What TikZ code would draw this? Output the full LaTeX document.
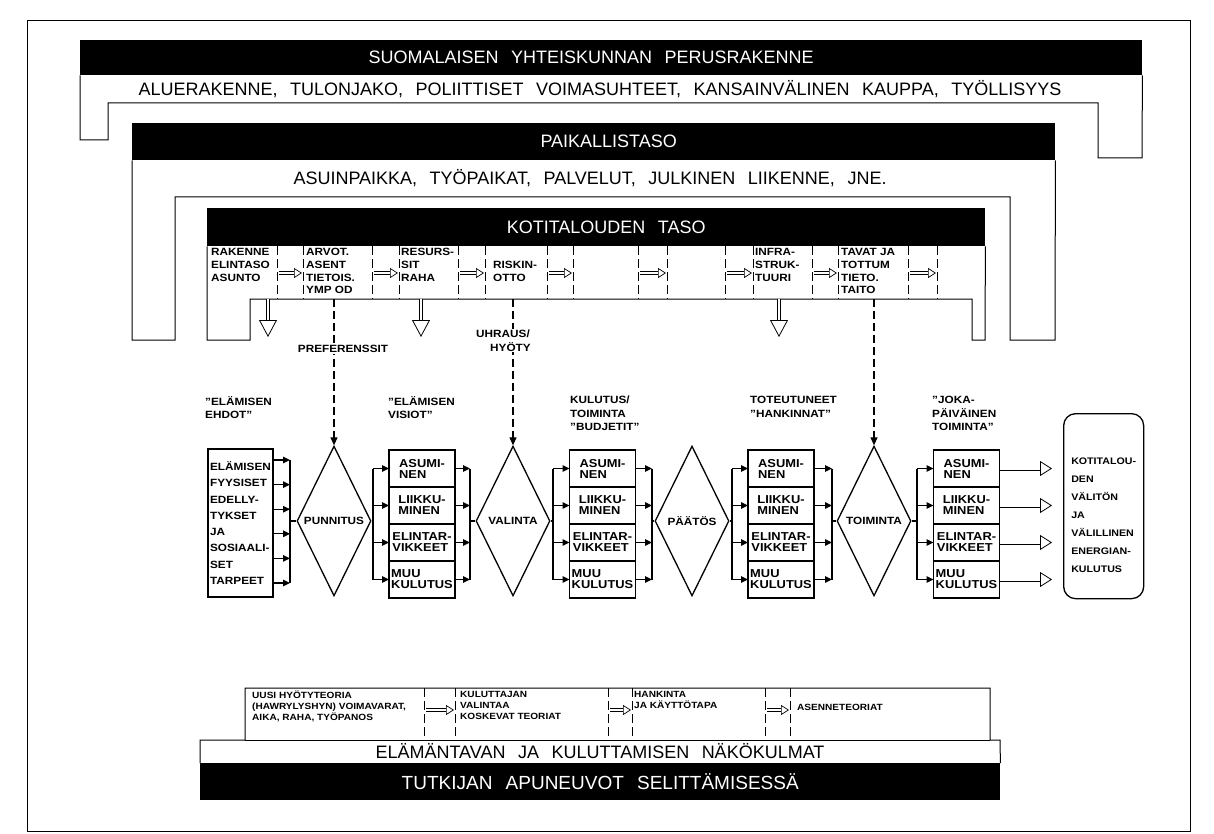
\documentclass[tikz,border=0pt]{standalone}
\usepackage{fontspec}
\setmainfont{Liberation Sans}[WordSpace=2.5]
\newfontfamily\lblfont{Liberation Sans}[FakeStretch=1.12]
\usetikzlibrary{positioning,arrows.meta,shapes.geometric}

\begin{document}
\begin{tikzpicture}[x=1pt,y=-1pt,
    band/.style={fill=black,text=white,inner sep=0pt,anchor=north west,font=\fontsize{18}{20}\selectfont},
    desc/.style={inner sep=0pt,font=\fontsize{18}{20}\selectfont},
    lbl/.style={inner sep=0pt,align=left,font=\lblfont\bfseries\fontsize{10.5}{13.5}\selectfont},
    cell/.style={lbl,anchor=north west,font=\lblfont\bfseries\fontsize{10.5}{12.8}\selectfont},
    tool/.style={lbl,anchor=north west,font=\lblfont\bfseries\fontsize{9}{11}\selectfont},
    colbox/.style={draw,line width=1.3pt,lbl,outer sep=0pt,minimum width=66pt,minimum height=37pt,font=\lblfont\bfseries\fontsize{11.5}{11}\selectfont},
    dia/.style={draw,diamond,aspect=0.5,line width=1.3pt,minimum width=74pt,minimum height=150pt,lbl},
    rim/.style={line width=1pt},
    bus/.style={line width=1.3pt},
    feed/.style={line width=1.3pt,-{Triangle[length=7pt,width=6.5pt]}},
    hint/.style={line width=1.2pt,dash pattern=on 8pt off 4pt,-{Triangle[length=8pt,width=7pt]}},
    cellsep/.style={line width=0.9pt,dash pattern=on 9pt off 4pt},
    dbl/.style={double,double distance=2.4pt,line width=0.8pt,-{Triangle[open,length=12pt,width=15pt]}},
    dbig/.style={double,double distance=2.4pt,line width=0.8pt,-{Triangle[open,length=17pt,width=18pt]}},
    sdbl/.style={double,double distance=1.8pt,line width=0.7pt,-{Triangle[open,length=8pt,width=10pt]}}]
\useasboundingbox (0,0) rectangle (1214,834);
\draw[line width=0.8pt] (27,20) rectangle (1190,831);

% yhteiskunnan taso
\node[band,minimum width=1062pt,minimum height=35pt] (yht) at (80,40) {\hspace*{-40pt}SUOMALAISEN YHTEISKUNNAN PERUSRAKENNE};
\node[desc] (yhtd) at (600,89) {ALUERAKENNE, TULONJAKO, POLIITTISET VOIMASUHTEET, KANSAINVÄLINEN KAUPPA, TYÖLLISYYS};
\draw[rim] (yht.south west) -- (80,140) -- (108,140) -- (108,103) -- (1098,103) -- (1098,158) -- (1142,158) -- (yht.south east);

% paikallistaso
\node[band,minimum width=923pt,minimum height=37pt] (paik) at (132,123) {\hspace*{30pt}PAIKALLISTASO};
\node[desc] (paikd) at (590,178) {ASUINPAIKKA, TYÖPAIKAT, PALVELUT, JULKINEN LIIKENNE, JNE.};
\draw[rim] (paik.south west) -- (132,340) -- (175,340) -- (175,197) -- (1010,197) -- (1010,340) -- (1055,340) -- (paik.south east);

% kotitalouden taso
\node[band,minimum width=778pt,minimum height=38pt] (koti) at (207,208) {\hspace*{20pt}KOTITALOUDEN TASO};
\draw[rim] (koti.south west) -- (207,340) -- (250,340) -- (250,299) -- (972,299) -- (972,340) -- (985,340) -- (koti.south east);
\node[cell] (rak) at (211,248) {RAKENNE\\ELINTASO\\ASUNTO};
\node[cell] (arv) at (306,248) {ARVOT.\\ASENT\\TIETOIS.\\YMP OD};
\node[cell] (res) at (401,248) {RESURS-\\SIT\\RAHA};
\node[cell] (ris) at (493,261) {RISKIN-\\OTTO};
\node[cell] (inf) at (755,248) {INFRA-\\STRUK-\\TUURI};
\node[cell] (tav) at (841,248) {TAVAT JA\\TOTTUM\\TIETO.\\TAITO};
\foreach \x in {277,303,372,399,458,485,547,573,638,667,725,753,812,838,908,937}
  \draw[cellsep] (\x,246) -- (\x,299);
\foreach \a/\b in {277/303,372/399,458/485,547/573,638/667,725/753,812/838,908/937}
  \draw[sdbl] (\a+2,273) -- (\b-1,273);

% vaikutukset alas
\coordinate (h1) at (268,299);
\coordinate (h2) at (421,299);
\coordinate (h3) at (779,299);
\foreach \h in {h1,h2,h3} \draw[dbig] (\h) -- ++(0,38);

% paaketju
\node[lbl,anchor=north west] (ehdotl) at (205,396) {”ELÄMISEN\\EHDOT”};
\node[lbl,anchor=north west] (visiol) at (388,396) {”ELÄMISEN\\VISIOT”};
\node[lbl,anchor=north west] (budjl) at (570,396) {KULUTUS/\\TOIMINTA\\”BUDJETIT”};
\node[lbl,anchor=north west] (hankl) at (750,396) {TOTEUTUNEET\\”HANKINNAT”};
\node[lbl,anchor=north west] (jokal) at (932,396) {”JOKA-\\PÄIVÄINEN\\TOIMINTA”};

\node[colbox,anchor=north west,minimum width=65pt,minimum height=148pt,font=\lblfont\bfseries\fontsize{10.5}{16.3}\selectfont] (ehdot) at (208,449)
  {ELÄMISEN\\FYYSISET\\EDELLY-\\TYKSET\\JA\\SOSIAALI-\\SET\\TARPEET};

\node[dia] (punnitus) at (334,521) {PUNNITUS};
\node[dia] (valinta) at (513,521) {VALINTA};
\node[dia] (paatos) at (692,521) {PÄÄTÖS};
\node[dia] (toiminta) at (874,521) {TOIMINTA};

\foreach \c/\x in {1/422,2/602.5,3/781,4/966.5} {
  \node[colbox] (a\c) at (\x,468.5) {ASUMI-\\NEN};
  \node[colbox,below=0pt of a\c] (b\c) {LIIKKU-\\MINEN};
  \node[colbox,below=0pt of b\c] (c\c) {ELINTAR-\\VIKKEET};
  \node[colbox,below=0pt of c\c] (d\c) {MUU\\KULUTUS};
}

\node[draw,line width=1.3pt,rounded corners=12pt,anchor=north west,lbl,minimum width=80pt,minimum height=185pt,font=\lblfont\bfseries\fontsize{9.5}{18}\selectfont] (energia) at (1063,413)
  {\rule{0pt}{24pt}KOTITALOU-\\DEN\\VÄLITÖN\\JA\\VÄLILLINEN\\ENERGIAN-\\KULUTUS};

% kokoojat
\coordinate (b0) at (290,0);
\coordinate (l1) at (373,0);
\coordinate (r1) at (470,0);
\coordinate (l2) at (553,0);
\coordinate (r2) at (652,0);
\coordinate (l3) at (732,0);
\coordinate (r3) at (832,0);
\coordinate (l4) at (917,0);
\coordinate (out) at (1052,0);

\foreach \y in {460,484.6,509.2,533.8,558.4,583}
  \draw[feed] (ehdot.east |- 0,\y) -- (b0 |- 0,\y);
\draw[bus] (b0 |- 0,460) -- (b0 |- 0,583);
\draw[bus] (b0 |- punnitus.west) -- (punnitus.west);

\foreach \c in {1,...,4} {
  \foreach \n in {a,b,c,d} \draw[feed] (l\c |- \n\c.west) -- (\n\c.west);
  \draw[bus] (l\c |- a\c.west) -- (l\c |- d\c.west);
}
\foreach \c in {1,2,3} {
  \foreach \n in {a,b,c,d} \draw[feed] (\n\c.east) -- (r\c |- \n\c.east);
  \draw[bus] (r\c |- a\c.east) -- (r\c |- d\c.east);
}
\foreach \n in {a,b,c,d} \draw[dbl] (\n4.east) -- (out |- \n4.east);

\draw[bus] (punnitus.east) -- (l1 |- punnitus.east);
\draw[bus] (r1 |- valinta.west) -- (valinta.west);
\draw[bus] (valinta.east) -- (l2 |- valinta.east);
\draw[bus] (r2 |- paatos.west) -- (paatos.west);
\draw[bus] (paatos.east) -- (l3 |- paatos.east);
\draw[bus] (r3 |- toiminta.west) -- (toiminta.west);
\draw[bus] (toiminta.east) -- (l4 |- toiminta.east);

% katkoviivat
\coordinate (pref) at (334,299);
\coordinate (uhr) at (513,299);
\coordinate (tap) at (874,299);
\draw[hint] (pref) -- (punnitus.north);
\draw[hint] (uhr) -- (valinta.north);
\draw[hint] (tap) -- (toiminta.north);
\node[lbl,fill=white,inner ysep=1pt] (prefl) at (343,349) {PREFERENSSIT};
\node[lbl,fill=white,inner ysep=1pt,anchor=north west] (uhrl) at (476,329) {UHRAUS/\\\hspace*{14pt}HYÖTY};

% tutkijan apuneuvot
\node[band,minimum width=800pt,minimum height=37pt,font=\fontsize{19}{21}\selectfont] (tutk) at (200,763) {TUTKIJAN APUNEUVOT SELITTÄMISESSÄ};
\node[desc] (tapad) at (600,751) {ELÄMÄNTAVAN JA KULUTTAMISEN NÄKÖKULMAT};
\draw[rim] (tutk.north west) -- (200,740) -- (245,740) -- (245,688) -- (990,688) -- (990,740) -- (1000,740) -- (tutk.north east);
\draw[rim] (245,740) -- (990,740);
\node[tool] (t1) at (252,691) {UUSI HYÖTYTEORIA\\(HAWRYLYSHYN) VOIMAVARAT,\\AIKA, RAHA, TYÖPANOS};
\node[tool] (t2) at (460,691) {KULUTTAJAN\\VALINTAA\\KOSKEVAT TEORIAT};
\node[tool] (t3) at (634,691) {HANKINTA\\JA KÄYTTÖTAPA};
\node[tool] (t4) at (797,704) {ASENNETEORIAT};
\foreach \x in {424,455,608,632,765,790}
  \draw[cellsep] (\x,688) -- (\x,740);
\foreach \a/\b in {424/455,608/632,765/790}
  \draw[sdbl] (\a+2,710) -- (\b-1,710);
\end{tikzpicture}
\end{document}
